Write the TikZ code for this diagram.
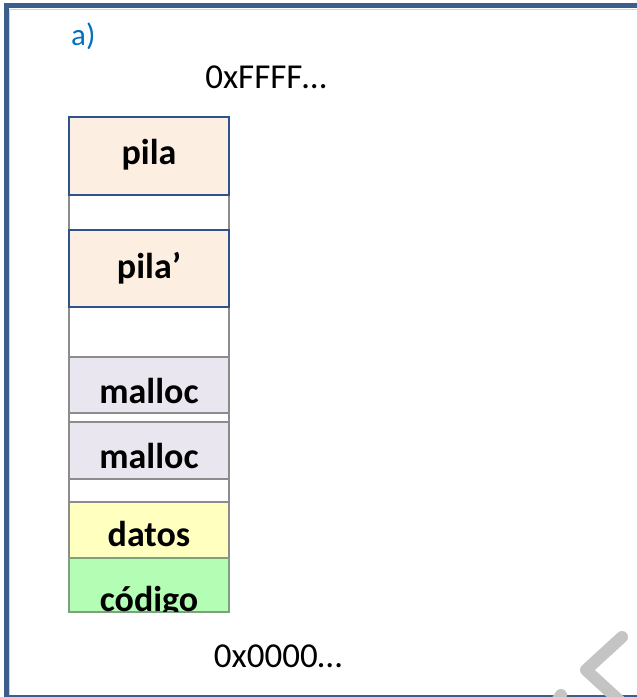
\documentclass[tikz,border=0pt]{standalone}
\usepackage{fontspec}
\setmainfont{Carlito}
\definecolor{frameblue}{HTML}{3B5E8C}
\definecolor{framelight}{HTML}{C9D6E8}
\definecolor{pilafill}{HTML}{FDEEE2}
\definecolor{pilaline}{HTML}{2F528F}
\definecolor{mallocfill}{HTML}{E9E6EF}
\definecolor{grayline}{HTML}{8C8C8C}
\definecolor{datosfill}{HTML}{FFFFC0}
\definecolor{codigofill}{HTML}{B4FDB4}
\definecolor{codigoline}{HTML}{7FA07F}
\definecolor{ablue}{HTML}{0070C0}
\definecolor{markgray}{HTML}{C4C4C4}
\begin{document}
\begin{tikzpicture}[x=1pt,y=-1pt,
  seg/.style={draw, line width=2pt, inner sep=0pt, outer sep=0pt, minimum width=160pt},
  lbl/.style={anchor=base, inner sep=0pt, font=\fontsize{36}{38}\selectfont\bfseries},
  addr/.style={anchor=base, inner sep=0pt, font=\fontsize{35}{37}\selectfont}]
\useasboundingbox (0,0) rectangle (637,697);
% frame
\draw[framelight, line width=1.5pt] (9.5,697) -- (9.5,9.5) -- (637,9.5);
\draw[frameblue, line width=5pt] (6,697) -- (6,5.5) -- (637,5.5);
\draw[frameblue, line width=2pt] (6,696) -- (637,696);
% watermark chevron
\draw[markgray, line width=12pt, line cap=round, line join=round] (622,637) -- (586,670) -- (622,703);
\draw[markgray, line width=12pt, line cap=round] (561,695) -- (557,701);
% column sides
\draw[grayline, line width=2pt] (69,117) -- (69,612) (229,117) -- (229,612);
% segments
\node[seg, pilaline, fill=pilafill, minimum height=78pt] (pila) at (149,156) {};
\node[seg, pilaline, fill=pilafill, minimum height=77pt] (pila2) at (149,268.5) {};
\node[seg, grayline, fill=mallocfill, minimum height=56pt] (m1) at (149,385) {};
\node[seg, grayline, fill=mallocfill, minimum height=57pt] (m2) at (149,450.5) {};
\node[seg, grayline, fill=datosfill, minimum height=56pt] (datos) at (149,530) {};
\node[seg, codigoline, fill=codigofill, minimum height=54pt] (codigo) at (149,585) {};
% labels
\node[lbl] (tpila) at (149,164) {pila};
\node[lbl] (tpila2) at (149,278) {pila’};
\node[lbl] (tm1) at (149,403) {malloc};
\node[lbl] (tm2) at (149,468) {malloc};
\node[lbl] (tdatos) at (149,546) {datos};
\begin{scope}
\clip (70,559) rectangle (228,611);
\node[lbl] (tcodigo) at (149,611) {código};
\end{scope}
% addresses
\node[addr] (top) at (266,88) {0xFFFF…};
\node[addr] (bot) at (278,667) {0x0000…};
\node[addr, text=ablue, anchor=base west, font=\fontsize{31}{33}\selectfont] (a) at (71,45) {a)};
\end{tikzpicture}
\end{document}
